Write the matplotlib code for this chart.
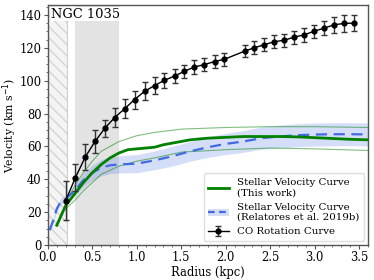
import matplotlib
matplotlib.use('Agg')
import matplotlib.pyplot as plt
from matplotlib.ticker import MultipleLocator
from matplotlib.patches import Patch

# CO rotation curve
co_r = [0.20, 0.31, 0.42, 0.53, 0.64, 0.75, 0.865, 0.975, 1.087, 1.20, 1.31, 1.425,
        1.535, 1.648, 1.76, 1.874, 1.985, 2.215, 2.32, 2.43, 2.54, 2.66, 2.77, 2.88,
        2.99, 3.11, 3.22, 3.33, 3.44]
co_v = [27, 41, 53.5, 63, 71, 77.5, 83, 88.5, 93.5, 97, 100.2, 102.8,
        105.7, 108.3, 109.8, 111.6, 113, 118, 120, 121.8, 123.6, 124.6, 126.5, 127.8,
        130, 132, 134, 134.8, 135]
co_err = [12, 8, 8, 7, 5, 6, 6, 5.5, 5.5, 5, 4.5, 4.5,
          4, 4, 4, 4, 4, 3.5, 4, 4, 4, 4, 4, 4,
          4, 4.5, 5, 5, 5]

# stellar velocity curve (this work) + upper/lower envelope
sv_r = [0.1, 0.2, 0.3, 0.4, 0.5, 0.6, 0.7, 0.8, 0.9, 1.0, 1.1, 1.2, 1.3, 1.4, 1.5,
        1.6, 1.8, 2.0, 2.2, 2.4, 2.6, 2.8, 3.0, 3.2, 3.4, 3.6]
sv_v = [12, 24, 31, 38, 44, 49, 53, 56, 58, 58.5, 59, 59.5, 61, 62, 63,
        64, 65, 65.5, 66, 66, 66, 65.8, 65.3, 64.8, 64.3, 64]
env_r = [0.2, 0.3, 0.4, 0.5, 0.6, 0.8, 1.0, 1.2, 1.5, 2.0, 2.5, 3.0, 3.6]
env_hi = [26, 36, 44, 51, 57, 63, 66.5, 68.5, 70.5, 71.5, 72, 72, 71.5]
env_lo = [22, 27, 33, 38, 43, 48, 51, 53, 56.5, 58, 59, 58.5, 57.5]

# stellar velocity curve (Relatores et al. 2019b)
rel_r = [0.02, 0.06, 0.1, 0.15, 0.2, 0.3, 0.4, 0.5, 0.6, 0.7, 0.8, 1.0, 1.2, 1.4,
         1.6, 1.8, 2.0, 2.2, 2.4, 2.6, 2.8, 3.0, 3.2, 3.4, 3.6]
rel_v = [9, 15, 22, 27, 28, 33, 39.5, 44, 47, 48.5, 49, 49.5, 51.5, 54,
         57, 59.5, 61.5, 63, 65, 66, 66.8, 67.2, 67.4, 67.4, 67.3]
rel_err = [1, 1.2, 1.5, 1.8, 2, 3, 4, 4.5, 5, 5, 5.2, 5.5, 5.7, 6,
           6, 6.2, 6.5, 6.6, 6.8, 7, 7, 7, 7, 7, 7]

plt.rcParams['font.family'] = 'DejaVu Serif'
plt.rcParams['font.size'] = 8.3

fig = plt.figure(figsize=(3.74, 2.8), dpi=100)
ax = fig.add_axes([0.128, 0.125, 0.856, 0.857])

# masked regions
ax.axvspan(0, 0.22, facecolor='#f4f4f4', edgecolor='#d4d4d4', hatch='\\\\\\', lw=0, zorder=0)
ax.axvline(0.22, color='#cfcfcf', lw=0.8, zorder=0)
ax.axvspan(0.3, 0.8, color='#e3e3e3', lw=0, zorder=0)

# Relatores curve
lo = [v - e for v, e in zip(rel_v, rel_err)]
hi = [v + e for v, e in zip(rel_v, rel_err)]
ax.fill_between(rel_r, lo, hi, color='royalblue', alpha=0.22, lw=0, zorder=1)
ax.plot(rel_r, rel_v, color='royalblue', ls=(0, (5, 3)), lw=1.6, zorder=3)

# this work
ax.plot(env_r, env_hi, color='green', lw=0.8, alpha=0.5, zorder=2)
ax.plot(env_r, env_lo, color='green', lw=0.8, alpha=0.5, zorder=2)
ax.plot(sv_r, sv_v, color='green', lw=2, zorder=3)

# CO rotation curve
co = ax.errorbar(co_r, co_v, yerr=co_err, color='black', ecolor='#333333', fmt='-o',
                 ms=3.5, lw=1, elinewidth=1, capsize=2, zorder=4)

ax.set_xlim(0, 3.6)
ax.set_ylim(0, 146)
ax.xaxis.set_major_locator(MultipleLocator(0.5))
ax.xaxis.set_minor_locator(MultipleLocator(0.1))
ax.yaxis.set_major_locator(MultipleLocator(20))
ax.yaxis.set_minor_locator(MultipleLocator(5))
ax.tick_params(which='major', length=3, width=0.8, color='#555555', pad=1.5)
ax.tick_params(which='minor', length=1.5, width=0.6, color='#555555')
for s in ax.spines.values():
    s.set_color('#555555')
    s.set_linewidth(1)

ax.set_xlabel('Radius (kpc)', labelpad=1)
ax.set_ylabel('Velocity (km s$^{-1}$)', fontsize=7.8, labelpad=0.5)

ax.text(0.035, 140.5, 'NGC 1035', fontsize=9.4, va='center', ha='left', zorder=5,
        bbox=dict(facecolor='white', edgecolor='none', pad=0.5))

h1, = ax.plot([], [], color='green', lw=2)
h2 = (Patch(facecolor='royalblue', alpha=0.22, lw=0),
      plt.Line2D([], [], color='royalblue', ls=(0, (3, 2)), lw=1.6))
ax.legend([h1, h2, co],
          ['Stellar Velocity Curve\n(This work)',
           'Stellar Velocity Curve\n(Relatores et al. 2019b)',
           'CO Rotation Curve'],
          loc='lower right', fontsize=7.4, handlelength=2.0, labelspacing=0.5,
          borderpad=0.45, handletextpad=0.8, framealpha=1, edgecolor='#dddddd',
          fancybox=True, borderaxespad=0.4)

fig.savefig('out.png', dpi=100)
